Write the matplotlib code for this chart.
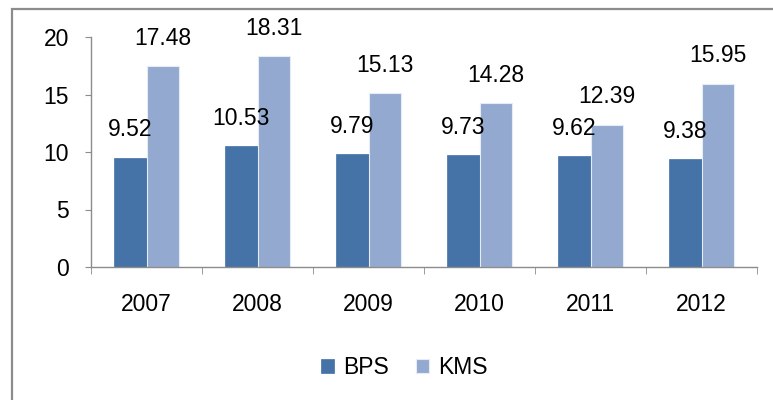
import matplotlib.pyplot as plt
import numpy as np
from matplotlib.patches import Rectangle

years = ['2007', '2008', '2009', '2010', '2011', '2012']
bps = [9.52, 10.53, 9.79, 9.73, 9.62, 9.38]
kms = [17.48, 18.31, 15.13, 14.28, 12.39, 15.95]

plt.rcParams['font.family'] = ['Liberation Sans', 'DejaVu Sans']

fig = plt.figure(figsize=(7.73, 4.0), dpi=100)
ax = fig.add_axes([91 / 773, 1 - 267 / 400, 666 / 773, 230 / 400])

# outer chart border
fig.patches.append(Rectangle((12 / 773, -0.05), 1.0, 1 - 9 / 400 + 0.05,
                             transform=fig.transFigure, fill=False,
                             edgecolor='#8c8c8c', linewidth=1.6))

x = np.arange(len(years))
w = 0.29
b1 = ax.bar(x - w / 2, bps, w, color='#4572A7', edgecolor='#4572A7', linewidth=0.5, label='BPS')
b2 = ax.bar(x + w / 2, kms, w, color='#93A9CF', edgecolor='#E6ECF5', linewidth=0.8, label='KMS')

for bars, vals in ((b1, bps), (b2, kms)):
    for r, v in zip(bars, vals):
        ax.text(r.get_x() + r.get_width() / 2, v + 1.4, f'{v:.2f}',
                ha='center', va='bottom', fontsize=16.5)

ax.set_xlim(-0.5, len(years) - 0.5)
ax.set_ylim(0, 20)
ax.set_yticks([0, 5, 10, 15, 20])
ax.set_xticks(x)
ax.set_xticklabels(years)
ax.set_xticks(np.arange(-0.5, len(years)), minor=True)
ax.tick_params(axis='x', which='major', length=0, labelsize=16.5, pad=19)
ax.tick_params(axis='x', which='minor', length=5, color='#8c8c8c', direction='out')
ax.tick_params(axis='y', length=4, color='#8c8c8c', labelsize=16.5, pad=12)

for s in ['top', 'right']:
    ax.spines[s].set_visible(False)
for s in ['left', 'bottom']:
    ax.spines[s].set_color('#8c8c8c')
    ax.spines[s].set_linewidth(1.0)

fig.legend(handles=[b1, b2], labels=['BPS', 'KMS'], loc='center',
           bbox_to_anchor=(0.523, 1 - 368 / 400), ncol=2, frameon=False,
           fontsize=16.5, handlelength=0.55, handleheight=0.55, handletextpad=0.4,
           columnspacing=1.2)

fig.savefig('out.png', dpi=100)
